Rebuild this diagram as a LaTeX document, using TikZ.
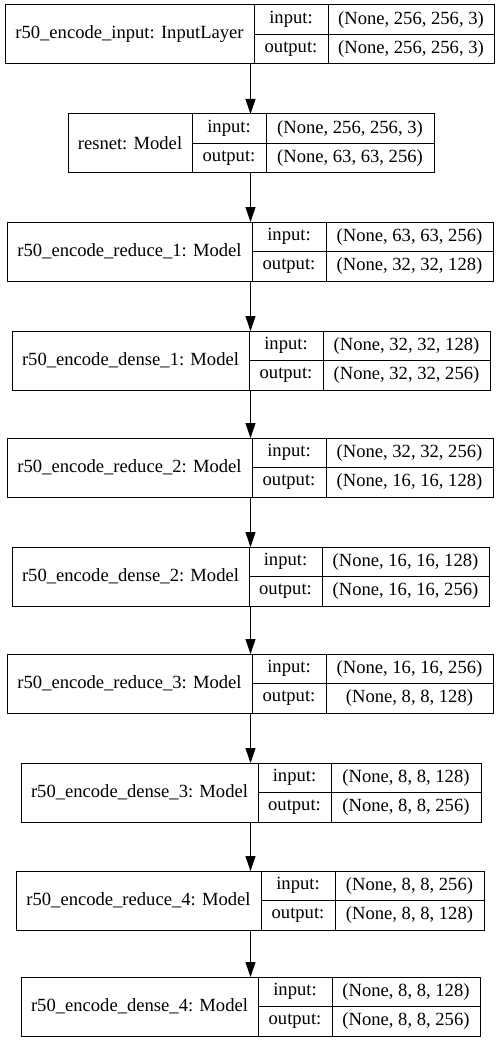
\documentclass[tikz,border=0pt]{standalone}
\usepackage{fontspec}
\setmainfont{Liberation Serif}
\usepackage{tikz}
\usetikzlibrary{positioning, calc, arrows.meta}

\begin{document}
\begin{tikzpicture}[x=1pt, y=-1pt,
        cellnode/.style={rectangle, draw=black, line width=1pt, inner sep=0pt, outer sep=0pt, anchor=north west},
        flow/.style={-{Triangle[width=10pt,length=15pt]}, line width=1pt},
        thick]
        \tikzstyle{every node}=[font=\fontsize{18.6}{22}\selectfont]
            \useasboundingbox (0,0) rectangle (501,1043);
            \coordinate (spine) at (250.5,0);
            % one layer per row: name/top/left/div1/div2/right/label/input/output
            \foreach \nm/\tp/\xa/\xb/\xc/\xd/\lbl/\vin/\vout in {
                inlayer/5/5/254/328/494/{r50\_encode\_input: InputLayer}/{(None, 256, 256, 3)}/{(None, 256, 256, 3)},
                resnet/114/68/192/266/434/{resnet: Model}/{(None, 256, 256, 3)}/{(None, 63, 63, 256)},
                reduceA/222/7/252/326/493/{r50\_encode\_reduce\_1: Model}/{(None, 63, 63, 256)}/{(None, 32, 32, 128)},
                denseA/331/12/249/323/490/{r50\_encode\_dense\_1: Model}/{(None, 32, 32, 128)}/{(None, 32, 32, 256)},
                reduceB/438/7/252/326/493/{r50\_encode\_reduce\_2: Model}/{(None, 32, 32, 256)}/{(None, 16, 16, 128)},
                denseB/547/12/249/322/489/{r50\_encode\_dense\_2: Model}/{(None, 16, 16, 128)}/{(None, 16, 16, 256)},
                reduceC/654/7/252/326/493/{r50\_encode\_reduce\_3: Model}/{(None, 16, 16, 256)}/{(None, 8, 8, 128)},
                denseC/763/21/258/331/481/{r50\_encode\_dense\_3: Model}/{(None, 8, 8, 128)}/{(None, 8, 8, 256)},
                reduceD/871/16/261/335/484/{r50\_encode\_reduce\_4: Model}/{(None, 8, 8, 256)}/{(None, 8, 8, 128)},
                denseD/977/21/258/332/480/{r50\_encode\_dense\_4: Model}/{(None, 8, 8, 128)}/{(None, 8, 8, 256)}}
            {
                \node[cellnode, minimum width={(\xb-\xa)*1pt}, minimum height=59pt] (\nm) at (\xa,\tp) {\lbl};
                \node[cellnode, minimum width={(\xc-\xb)*1pt}, minimum height=29.5pt] (\nm-il) at (\nm.north east) {input:};
                \node[cellnode, minimum width={(\xc-\xb)*1pt}, minimum height=29.5pt] (\nm-ol) at (\nm-il.south west) {output:};
                \node[cellnode, minimum width={(\xd-\xc)*1pt}, minimum height=29.5pt] (\nm-iv) at (\nm-il.north east) {\vin};
                \node[cellnode, minimum width={(\xd-\xc)*1pt}, minimum height=29.5pt] (\nm-ov) at (\nm-ol.north east) {\vout};
            }

            \foreach \a/\b in {inlayer/resnet, resnet/reduceA, reduceA/denseA, denseA/reduceB, reduceB/denseB,
                               denseB/reduceC, reduceC/denseC, denseC/reduceD, reduceD/denseD}
                \draw[flow] (\a.south -| spine) -- (\b.north -| spine);
        \end{tikzpicture}
\end{document}
